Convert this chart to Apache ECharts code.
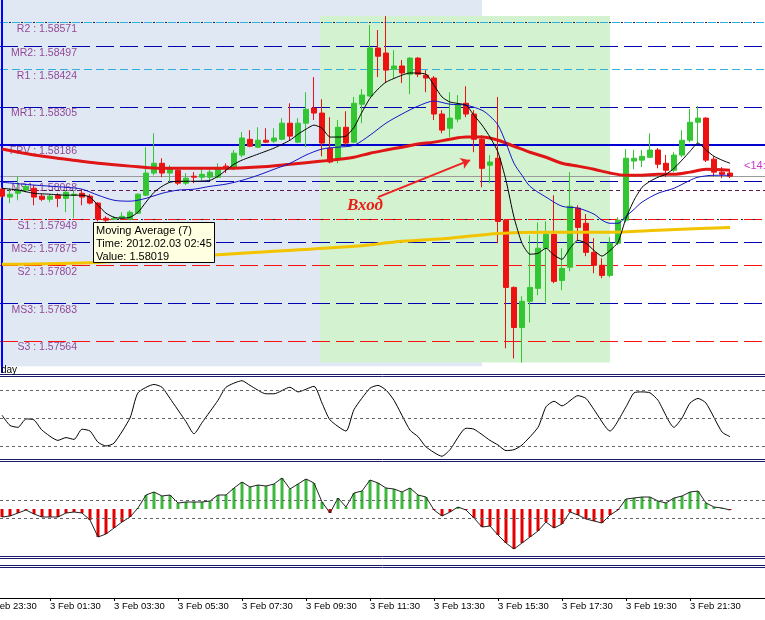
<!DOCTYPE html>
<html><head><meta charset="utf-8">
<script src="https://cdn.jsdelivr.net/npm/echarts@6/dist/echarts.min.js"></script>
<style>html,body{margin:0;padding:0;background:#fff}#c{width:765px;height:620px}</style>
</head><body><div id="c"></div>
<script>
// ---------- DATA ----------
// x unit = one 15-minute bar; bar 0 = 2 Feb 23:30, the first candle (3 Feb 00:00) is bar 2
const firstBar = 2;
const timeTickLabels = ['2 Feb 23:30','3 Feb 01:30','3 Feb 03:30','3 Feb 05:30','3 Feb 07:30','3 Feb 09:30',
  '3 Feb 11:30','3 Feb 13:30','3 Feb 15:30','3 Feb 17:30','3 Feb 19:30','3 Feb 21:30'];

const candleOpen = [1.58044,1.58019,1.58031,1.58041,1.58047,1.58022,1.58012,1.58025,1.58015,1.58025,
  1.58031,1.58022,1.58000,1.57952,1.57949,1.57952,1.57949,1.57968,1.58025,1.58095,
  1.58126,1.58095,1.58104,1.58063,1.58085,1.58082,1.58082,1.58082,1.58117,1.58110,
  1.58152,1.58202,1.58177,1.58199,1.58196,1.58202,1.58253,1.58193,1.58253,1.58301,
  1.58285,1.58174,1.58139,1.58240,1.58193,1.58313,1.58339,1.58491,1.58475,1.58424,
  1.58434,1.58408,1.58459,1.58405,1.58396,1.58282,1.58237,1.58266,1.58316,1.58282,
  1.58202,1.58120,1.58142,1.57946,1.57733,1.57606,1.57689,1.57730,1.57857,1.57901,
  1.57755,1.57797,1.57984,1.57936,1.57844,1.57803,1.57771,1.57873,1.57946,1.58133,
  1.58136,1.58145,1.58168,1.58126,1.58104,1.58152,1.58199,1.58256,1.58269,1.58139,
  1.58098,1.58095];
const candleClose = [1.58022,1.58028,1.58041,1.58053,1.58019,1.58012,1.58022,1.58015,1.58034,1.58028,
  1.58019,1.58000,1.57949,1.57946,1.57952,1.57958,1.57971,1.58028,1.58095,1.58126,
  1.58095,1.58110,1.58063,1.58079,1.58082,1.58091,1.58098,1.58107,1.58110,1.58158,
  1.58206,1.58180,1.58199,1.58193,1.58206,1.58253,1.58212,1.58253,1.58297,1.58285,
  1.58190,1.58130,1.58240,1.58190,1.58316,1.58342,1.58491,1.58465,1.58421,1.58434,
  1.58412,1.58459,1.58408,1.58396,1.58282,1.58231,1.58269,1.58313,1.58282,1.58202,
  1.58110,1.58130,1.57942,1.57733,1.57606,1.57689,1.57733,1.57857,1.57901,1.57752,
  1.57793,1.57990,1.57923,1.57844,1.57803,1.57771,1.57873,1.57946,1.58142,1.58142,
  1.58148,1.58168,1.58123,1.58104,1.58152,1.58199,1.58256,1.58269,1.58136,1.58098,
  1.58091,1.58085];
const candleLow = [1.58015,1.58000,1.58009,1.58034,1.57993,1.58006,1.58003,1.57987,1.57971,1.57952,
  1.57993,1.57996,1.57942,1.57939,1.57946,1.57949,1.57946,1.57965,1.58022,1.58088,
  1.58082,1.58066,1.58057,1.58057,1.58063,1.58072,1.58072,1.58079,1.58095,1.58104,
  1.58145,1.58177,1.58174,1.58190,1.58190,1.58199,1.58199,1.58190,1.58177,1.58263,
  1.58148,1.58126,1.58126,1.58183,1.58190,1.58253,1.58336,1.58399,1.58380,1.58396,
  1.58380,1.58345,1.58399,1.58351,1.58263,1.58221,1.58209,1.58256,1.58272,1.58161,
  1.58050,1.58063,1.57873,1.57540,1.57508,1.57495,1.57622,1.57708,1.57686,1.57746,
  1.57724,1.57784,1.57882,1.57832,1.57778,1.57762,1.57765,1.57866,1.57939,1.58107,
  1.58114,1.58142,1.58110,1.58082,1.58098,1.58145,1.58193,1.58190,1.58130,1.58085,
  1.58079,1.58079];
const candleHigh = [1.58050,1.58047,1.58085,1.58060,1.58057,1.58028,1.58028,1.58031,1.58041,1.58041,
  1.58044,1.58028,1.58003,1.57958,1.57958,1.57971,1.57977,1.58031,1.58177,1.58221,
  1.58142,1.58120,1.58114,1.58095,1.58098,1.58110,1.58110,1.58126,1.58126,1.58168,
  1.58225,1.58231,1.58240,1.58237,1.58237,1.58269,1.58316,1.58269,1.58351,1.58399,
  1.58329,1.58272,1.58263,1.58291,1.58336,1.58361,1.58564,1.58548,1.58592,1.58484,
  1.58453,1.58462,1.58462,1.58421,1.58402,1.58294,1.58351,1.58342,1.58370,1.58294,
  1.58215,1.58152,1.58336,1.57949,1.57736,1.57705,1.57898,1.57939,1.57942,1.58025,
  1.57857,1.58098,1.57993,1.57965,1.57889,1.57825,1.57892,1.57955,1.58171,1.58168,
  1.58168,1.58221,1.58174,1.58152,1.58161,1.58231,1.58297,1.58307,1.58272,1.58148,
  1.58114,1.58101];

// moving averages (bar index counted from 3 Feb 00:00, value)
const ma7Bars = [0,2,4,6,8,10,11,12,13,14,15,16,17,18,19,20,21,22,24,26,27,28,29,30,32,34,36,37,38,39,40,41,42,43,44,45,46,47,48,50,51,53,54,55,56,58,59,60,61,62,63,64,65,66,67,68,69,70,71,72,73,74,75,76,77,78,79,80,81,82,83,84,85,86,87,88,89,90,91];
const ma7Values = [1.58047,1.58041,1.58031,1.58028,1.58025,1.58025,1.58019,1.57993,1.57968,1.57955,1.57952,1.57955,1.57971,1.58003,1.58034,1.58053,1.58066,1.58069,1.58069,1.58072,1.58085,1.58104,1.58123,1.58136,1.58155,1.58174,1.58199,1.58218,1.58234,1.58247,1.58237,1.58209,1.58209,1.58212,1.58240,1.58288,1.58332,1.58361,1.58383,1.58405,1.58412,1.58408,1.58373,1.58336,1.58320,1.58310,1.58278,1.58247,1.58209,1.58161,1.58072,1.57955,1.57873,1.57838,1.57841,1.57857,1.57835,1.57822,1.57857,1.57882,1.57873,1.57850,1.57832,1.57850,1.57876,1.57952,1.58009,1.58050,1.58069,1.58082,1.58091,1.58110,1.58136,1.58164,1.58190,1.58168,1.58148,1.58136,1.58126];
const maBlueBars = [0,4,8,10,12,14,16,18,20,22,24,26,28,30,32,34,36,38,40,42,44,46,48,50,52,54,56,58,60,61,62,63,64,65,66,68,70,72,74,75,76,77,78,79,80,82,84,86,87,89,91];
const maBlueValues = [1.58066,1.58057,1.58050,1.58044,1.58025,1.58009,1.58006,1.58015,1.58031,1.58041,1.58044,1.58053,1.58060,1.58072,1.58088,1.58107,1.58126,1.58152,1.58171,1.58177,1.58183,1.58215,1.58253,1.58282,1.58307,1.58323,1.58313,1.58310,1.58294,1.58275,1.58247,1.58190,1.58126,1.58088,1.58053,1.58019,1.57990,1.57984,1.57965,1.57946,1.57936,1.57936,1.57958,1.57980,1.58003,1.58031,1.58047,1.58072,1.58082,1.58088,1.58088];
const maRedBars = [0,4,8,12,16,20,24,28,32,36,40,44,46,48,50,52,54,56,58,60,62,64,66,68,70,72,74,76,78,80,82,84,86,88,91];
const maRedValues = [1.58171,1.58152,1.58139,1.58126,1.58117,1.58110,1.58110,1.58110,1.58114,1.58123,1.58133,1.58145,1.58158,1.58168,1.58177,1.58187,1.58193,1.58202,1.58209,1.58209,1.58199,1.58180,1.58161,1.58145,1.58126,1.58117,1.58107,1.58095,1.58088,1.58088,1.58091,1.58091,1.58098,1.58107,1.58104];
const maYellowBars = [0,12,20,32,44,50,56,62,68,76,82,88,91];
const maYellowValues = [1.57806,1.57812,1.57825,1.57844,1.57863,1.57879,1.57889,1.57904,1.57908,1.57908,1.57914,1.57920,1.57923];

// pivot levels
const pivotLabels = ['R2 : 1.58571','MR2: 1.58497','R1 : 1.58424','MR1: 1.58305','FPV : 1.58186','MS1: 1.58068',
  'S1 : 1.57949','MS2: 1.57875','S2 : 1.57802','MS3: 1.57683','S3 : 1.57564'];
const pivotValues = [1.58571,1.58497,1.58424,1.58305,1.58186,1.58068,1.57949,1.57875,1.57802,1.57683,1.57564];
const pivotKinds = ['R','M','R','M','P','M','S','M','S','M','S'];
const greyLevel = 1.58085;
const dottedLevel = 1.58041;
const dottedOverlayLevels = [1.58571, 1.57949];

// session boxes (bar index from 00:00, price range)
const sessionFrom = [-2, 39.75];
const sessionTo = [60, 76];
const sessionLow = [1.57483, 1.57495];
const sessionHigh = [1.58660, 1.58592];

// entry arrow (bar, price)
const arrowFrom = [47, 1.58019];
const arrowTo = [58.5, 1.58136];

// oscillator
const oscBars = [0,1,2,3,4,5,7,8,9,10,11,12,13,14,16,17,19,20,21,23,24,25,27,28,30,31,33,34,36,37,39,40,41,43,44,46,47,48,49,51,52,53,55,56,58,59,61,62,63,64,65,67,68,69,70,72,73,74,76,78,79,80,81,82,84,85,86,87,88,90,91];
const oscValues = [53,42,40,49,48,37,26,29,27,38,36,24,20,23,50,77,86,83,71,46,33,45,69,83,90,85,76,76,83,78,84,66,48,36,59,82,85,80,69,37,30,19,9,16,39,38,26,21,15,16,21,40,62,68,63,74,71,59,36,62,77,78,77,69,40,50,66,71,66,35,30];
const oscLevels = [20, 50, 80];

// histogram (one value per bar from 00:00)
const histValues = [-8,-7,-4,-1,-5,-8,-8,-8,-4,-3, -4,-11,-28,-25,-19,-13,-8,1,14,17,
  13,14,6,7,7,7,8,14,14,21, 27,22,24,23,25,31,20,25,30,26,
  7,-4,11,2,16,18,29,26,21,20, 17,21,14,12,-1,-7,-3,2,-1,-9,
  -18,-17,-26,-34,-40,-34,-28,-22,-13,-19, -15,-3,-6,-10,-12,-14,-6,-1,10,11,
  12,12,8,6,11,13,17,18,6,2, 1,-1];
const histLevels = [-9, 9];

// ---------- CHART ----------
const UP = '#33c633', DOWN = '#ee1111', NAVY = '#1a1a66';
const FONT = '"Liberation Sans", Arial, sans-serif';
const XMIN = 1.75, XMAX = 97.375;
const LABEL_BAR = 11.375;
const toX = k => k + firstBar;
const pairs = (bars, vals) => bars.map((b, i) => [toX(b), vals[i]]);

const pivotStyle = {
  R: {color: '#30b0e0', width: 1, type: [8, 4]},
  M: {color: '#0000b0', width: 1, type: [18, 6]},
  P: {color: '#0000d0', width: 2, type: 'solid'},
  S: {color: '#ff1010', width: 1, type: [18, 6]}
};

const tickBars = timeTickLabels.map((_, i) => i * 8).filter(b => b >= XMIN);

// one host series per pivot kind: its labels + its lines (series-level line style)
const pivotSeries = ['R', 'M', 'P', 'S'].map(kind => {
  const idx = pivotKinds.map((k, i) => k === kind ? i : -1).filter(i => i >= 0);
  return {
    type: 'scatter', xAxisIndex: 0, yAxisIndex: 0, z: 1, symbolSize: 0, silent: true,
    data: idx.map(i => ({value: [LABEL_BAR, pivotValues[i]], name: pivotLabels[i]})),
    label: {show: true, position: 'left', distance: 0, offset: [0, 6.5],
      formatter: p => p.name, fontSize: 10.5, fontFamily: FONT, color: '#7a1a7a'},
    markLine: {silent: true, z: 2.5, precision: 6, symbol: ['none', 'none'], label: {show: false},
      lineStyle: pivotStyle[kind], data: idx.map(i => ({yAxis: pivotValues[i]}))}
  };
});

const option = {
  backgroundColor: '#ffffff',
  animation: false,
  grid: [
    {left: 0, right: 0, top: 0, height: 373},
    {left: 0, right: 0, top: 377, height: 82},
    {left: 0, right: 0, top: 462, height: 93}
  ],
  xAxis: [0, 1, 2].map(i => ({
    type: 'value', gridIndex: i, min: XMIN, max: XMAX, show: i === 2,
    position: 'bottom', offset: i === 2 ? 43 : 0,
    axisLine: {show: true, onZero: false, lineStyle: {color: '#000', width: 1}},
    axisTick: {show: true, length: 3, lineStyle: {color: '#000'}, customValues: tickBars},
    axisLabel: {show: true, customValues: tickBars,
      formatter: v => timeTickLabels[Math.round(v / 8)] || '',
      fontSize: 9.5, fontFamily: FONT, color: '#000', align: 'left', margin: 3},
    splitLine: {show: false}
  })),
  yAxis: [
    {type: 'value', gridIndex: 0, min: 1.57462, max: 1.58643, show: false, splitLine: {show: false}},
    {type: 'value', gridIndex: 1, min: 6, max: 94, show: false, splitLine: {show: false}},
    {type: 'value', gridIndex: 2, min: -46, max: 47, show: false, splitLine: {show: false}}
  ],
  series: pivotSeries.concat([
    {
      type: 'candlestick', xAxisIndex: 0, yAxisIndex: 0, z: 3,
      encode: {x: 0, y: [1, 2, 3, 4]},
      data: candleOpen.map((o, i) => [toX(i), o, candleClose[i], candleLow[i], candleHigh[i]]),
      barWidth: 5,
      itemStyle: {color: UP, color0: DOWN, borderColor: UP, borderColor0: DOWN, borderWidth: 1},
      markArea: {
        silent: true, z: 1,
        data: sessionFrom.map((f, i) => [
          {coord: [Math.max(XMIN, toX(f)), sessionHigh[i]], itemStyle: {color: i === 0 ? '#e0e8f4' : '#d3f2cf'}},
          {coord: [toX(sessionTo[i]), sessionLow[i]]}
        ])
      },
      markLine: {silent: true, z: 2.6, precision: 6, symbol: ['none', 'none'], label: {show: false},
        lineStyle: {color: '#202040', width: 1, type: [2, 10], dashOffset: 3},
        data: dottedOverlayLevels.map(v => ({yAxis: v}))}
    },
    {type: 'line', xAxisIndex: 0, yAxisIndex: 0, z: 4, data: pairs(maYellowBars, maYellowValues),
      showSymbol: false, smooth: 0.3, lineStyle: {color: '#f2c400', width: 3},
      markLine: {silent: true, z: 6, precision: 6, symbol: ['none', 'arrow'], symbolSize: 9, label: {show: false},
        lineStyle: {color: '#ee2222', width: 2, type: 'solid', curveness: 0.08},
        data: [[{coord: [toX(arrowFrom[0]), arrowFrom[1]]}, {coord: [toX(arrowTo[0]), arrowTo[1]]}]]}},
    {type: 'line', xAxisIndex: 0, yAxisIndex: 0, z: 4, data: pairs(maRedBars, maRedValues),
      showSymbol: false, smooth: 0.3, lineStyle: {color: '#e01515', width: 3},
      markLine: {silent: true, z: 2.5, precision: 6, symbol: ['none', 'none'], label: {show: false},
        lineStyle: {color: '#9a9a9a', width: 1, type: 'solid'}, data: [{yAxis: greyLevel}]}},
    {type: 'line', xAxisIndex: 0, yAxisIndex: 0, z: 4, data: pairs(maBlueBars, maBlueValues),
      showSymbol: false, smooth: 0.3, lineStyle: {color: '#1515c8', width: 1},
      markLine: {silent: true, z: 2.5, precision: 6, symbol: ['none', 'none'], label: {show: false},
        lineStyle: {color: '#5a1a50', width: 1, type: [4, 3]}, data: [{yAxis: dottedLevel}]}},
    {type: 'line', xAxisIndex: 0, yAxisIndex: 0, z: 4, data: pairs(ma7Bars, ma7Values),
      showSymbol: false, smooth: 0.2, lineStyle: {color: '#000', width: 1},
      markLine: {silent: true, z: 2.7, symbol: ['none', 'none'], label: {show: false},
        lineStyle: {color: '#0000ff', width: 2, type: 'solid'}, data: [{xAxis: firstBar}]}},
    // oscillator
    {type: 'line', xAxisIndex: 1, yAxisIndex: 1, data: pairs(oscBars, oscValues),
      showSymbol: false, smooth: 0.2, lineStyle: {color: '#000', width: 1},
      markLine: {silent: true, symbol: ['none', 'none'], label: {show: false},
        lineStyle: {color: '#666', width: 1, type: [3, 3]},
        data: oscLevels.map(v => ({yAxis: v}))}},
    // histogram
    {type: 'bar', xAxisIndex: 2, yAxisIndex: 2, barWidth: 3, z: 2,
      data: histValues.map((v, i) => ({value: [toX(i), v], itemStyle: {color: v >= 0 ? '#3cb83c' : '#e00000'}}))},
    {type: 'line', xAxisIndex: 2, yAxisIndex: 2, z: 3, data: histValues.map((v, i) => [toX(i), v]),
      showSymbol: false, lineStyle: {color: '#222', width: 1},
      markLine: {silent: true, symbol: ['none', 'none'], label: {show: false},
        lineStyle: {color: '#666', width: 1, type: [3, 3]},
        data: histLevels.map(v => ({yAxis: v}))}}
  ]),
  graphic: [
    {type: 'line', silent: true, z: 20, shape: {x1: 0, y1: 374.5, x2: 765, y2: 374.5}, style: {stroke: NAVY, lineWidth: 1}},
    {type: 'line', silent: true, z: 20, shape: {x1: 0, y1: 376.5, x2: 765, y2: 376.5}, style: {stroke: NAVY, lineWidth: 1}},
    {type: 'line', silent: true, z: 20, shape: {x1: 0, y1: 459.5, x2: 765, y2: 459.5}, style: {stroke: NAVY, lineWidth: 1}},
    {type: 'line', silent: true, z: 20, shape: {x1: 0, y1: 461.5, x2: 765, y2: 461.5}, style: {stroke: NAVY, lineWidth: 1}},
    {type: 'line', silent: true, z: 20, shape: {x1: 0, y1: 556.5, x2: 765, y2: 556.5}, style: {stroke: NAVY, lineWidth: 1}},
    {type: 'line', silent: true, z: 20, shape: {x1: 0, y1: 558.5, x2: 765, y2: 558.5}, style: {stroke: NAVY, lineWidth: 1}},
    {type: 'line', silent: true, z: 20, shape: {x1: 0, y1: 565.5, x2: 765, y2: 565.5}, style: {stroke: NAVY, lineWidth: 1}},
    {type: 'line', silent: true, z: 20, shape: {x1: 0, y1: 567.5, x2: 765, y2: 567.5}, style: {stroke: NAVY, lineWidth: 1}},
    // first time label, partly left of the visible area
    {type: 'text', silent: true, z: 20, x: -14, y: 601,
      style: {text: timeTickLabels[0], font: '9.5px ' + FONT, fill: '#000', verticalAlign: 'top', textVerticalAlign: 'top'}},
    {type: 'text', silent: true, z: 20, x: 1, y: 365,
      style: {text: 'day', font: '10px ' + FONT, fill: '#000', verticalAlign: 'top', textVerticalAlign: 'top'}},
    {type: 'text', silent: true, z: 20, x: 347, y: 197,
      style: {text: 'Вход', font: 'italic bold 17px "Liberation Serif", serif', fill: '#e8201a', verticalAlign: 'top', textVerticalAlign: 'top'}},
    {type: 'text', silent: true, z: 20, x: 744, y: 160,
      style: {text: '<14:', font: '11px ' + FONT, fill: '#cc33cc', verticalAlign: 'top', textVerticalAlign: 'top'}},
    {type: 'rect', silent: true, z: 30, shape: {x: 93.5, y: 222.5, width: 121, height: 40},
      style: {fill: '#ffffe1', stroke: '#000', lineWidth: 1}},
    {type: 'text', silent: true, z: 31, x: 96, y: 224,
      style: {text: 'Moving Average (7)\nTime: 2012.02.03 02:45\nValue: 1.58019', font: '11px ' + FONT,
        fill: '#000', lineHeight: 13, verticalAlign: 'top', textVerticalAlign: 'top'}}
  ]
};

const chart = echarts.init(document.getElementById('c'), null, {renderer: 'canvas'});
chart.setOption(option);
</script>
</body></html>
